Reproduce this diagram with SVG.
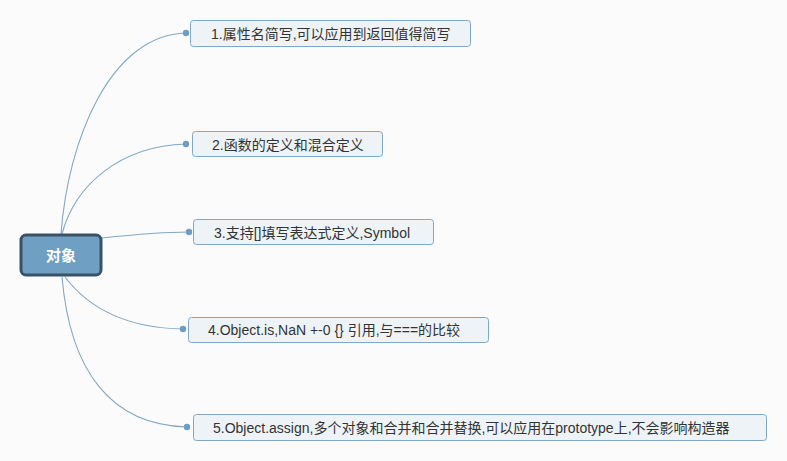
<svg xmlns="http://www.w3.org/2000/svg" width="787" height="461" viewBox="0 0 787 461">
<style>
.bg{fill:#fbfbfb}
.conn{fill:none;stroke:#82a8c6;stroke-width:1.1}
.dot{fill:#6f9cc1}
.box{fill:#eef3f7;stroke:#7ea7c8;stroke-width:1}
.lbl{font-family:"Liberation Sans","Noto Sans CJK SC",sans-serif;font-size:14px;fill:#333}
.root{fill:#6f9fc2;stroke:#3a5267;stroke-width:3}
.rlbl{font-family:"Liberation Sans","Noto Sans CJK SC",sans-serif;font-size:15px;font-weight:bold;fill:#fff}
</style>
<rect class="bg" x="0" y="0" width="787" height="461"/>
<g id="connectors">
<path class="conn" d="M61,234 C68,140 110,35 186,33"/>
<path class="conn" d="M62,234 C75,185 120,146 186,144"/>
<path class="conn" d="M102,238 C130,235 160,232 189,232"/>
<path class="conn" d="M65,277 C90,310 130,328 183,329"/>
<path class="conn" d="M62,277 C70,370 110,425 187,427"/>
<circle class="dot" cx="186" cy="33" r="3.2"/>
<circle class="dot" cx="186" cy="144" r="3.2"/>
<circle class="dot" cx="189" cy="232" r="3.2"/>
<circle class="dot" cx="183" cy="329" r="3.2"/>
<circle class="dot" cx="187" cy="427" r="3.2"/>
</g>
<g id="root">
<rect class="root" x="21" y="235" width="80" height="40" rx="5"/>
<text class="rlbl" x="61" y="261" text-anchor="middle">对象</text>
</g>
<g id="n1">
<rect class="box" x="190.5" y="20.5" width="280" height="26" rx="3"/>
<text class="lbl" x="211" y="39">1.属性名简写,可以应用到返回值得简写</text>
</g>
<g id="n2">
<rect class="box" x="192.5" y="131.5" width="190" height="25" rx="3"/>
<text class="lbl" x="212" y="150">2.函数的定义和混合定义</text>
</g>
<g id="n3">
<rect class="box" x="193.5" y="219.5" width="240" height="25" rx="3"/>
<text class="lbl" x="214" y="238">3.支持[]填写表达式定义,Symbol</text>
</g>
<g id="n4">
<rect class="box" x="188.5" y="317.5" width="300" height="25" rx="3"/>
<text class="lbl" x="208" y="335">4.Object.is,NaN +-0 {} 引用,与===的比较</text>
</g>
<g id="n5">
<rect class="box" x="193.5" y="414.5" width="573" height="26" rx="3"/>
<text class="lbl" x="213" y="433">5.Object.assign,多个对象和合并和合并替换,可以应用在prototype上,不会影响构造器</text>
</g>
</svg>
